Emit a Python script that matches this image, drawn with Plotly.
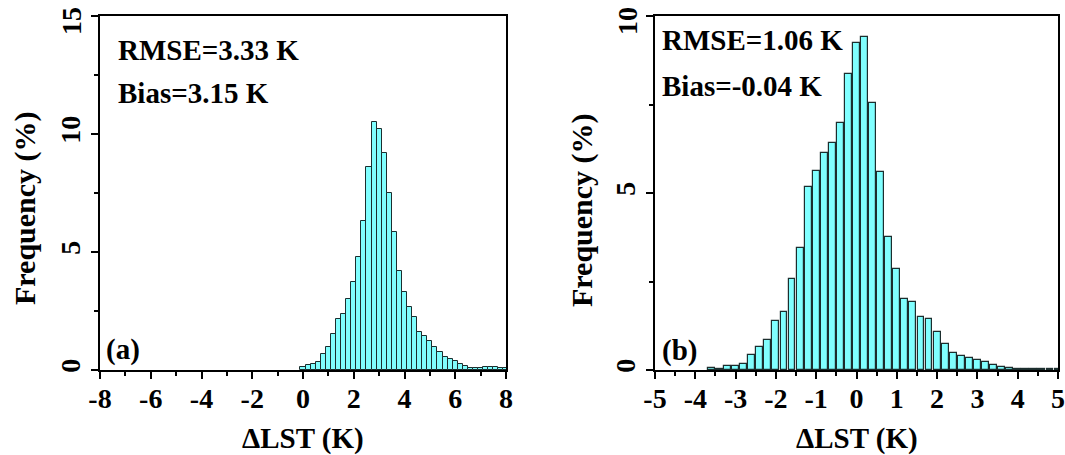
import plotly.graph_objects as go

# ---------------- data ----------------
bins_a = [0.0, 0.2, 0.4, 0.6, 0.8, 1.0, 1.2, 1.4, 1.6, 1.8, 2.0, 2.2, 2.4, 2.6, 2.8,
          3.0, 3.2, 3.4, 3.6, 3.8, 4.0, 4.2, 4.4, 4.6, 4.8, 5.0, 5.2, 5.4, 5.6, 5.8,
          6.0, 6.2, 6.4, 6.6, 6.8, 7.0, 7.2, 7.4, 7.6, 7.8, 8.0]
freq_a = [0.11, 0.20, 0.24, 0.32, 0.66, 0.99, 1.53, 2.15, 2.37, 2.99, 3.74, 4.77, 6.33,
          8.62, 10.52, 10.21, 9.21, 7.49, 5.85, 4.21, 3.32, 2.66, 2.23, 1.62, 1.44, 1.21,
          0.97, 0.75, 0.54, 0.48, 0.40, 0.27, 0.17, 0.10, 0.08, 0.08, 0.13, 0.11, 0.11,
          0.10, 0.07]

bins_b = [-3.6, -3.4, -3.2, -3.0, -2.8, -2.6, -2.4, -2.2, -2.0, -1.8, -1.6, -1.4, -1.2,
          -1.0, -0.8, -0.6, -0.4, -0.2, 0.0, 0.2, 0.4, 0.6, 0.8, 1.0, 1.2, 1.4, 1.6, 1.8,
          2.0, 2.2, 2.4, 2.6, 2.8, 3.0, 3.2, 3.4, 3.6, 3.8, 4.0, 4.2, 4.4, 4.6, 4.8, 5.0]
freq_b = [0.06, 0.03, 0.12, 0.12, 0.18, 0.43, 0.64, 0.86, 1.39, 1.65, 2.57, 3.46, 5.16,
          5.63, 6.14, 6.42, 6.99, 8.37, 9.23, 9.42, 7.54, 5.59, 3.76, 2.85, 2.00, 1.92,
          1.49, 1.43, 1.06, 0.73, 0.47, 0.40, 0.35, 0.29, 0.24, 0.15, 0.08, 0.05, 0.02,
          0.02, 0.04, 0.04, 0.03, 0.02]

xticks_a = [-8, -6, -4, -2, 0, 2, 4, 6, 8]
xticks_b = [-5, -4, -3, -2, -1, 0, 1, 2, 3, 4, 5]
yticks_a = [0, 5, 10, 15]
yticks_b = [0, 5, 10]

stats_a = ["RMSE=3.33 K", "Bias=3.15 K"]
stats_b = ["RMSE=1.06 K", "Bias=-0.04 K"]

# ---------------- figure ----------------
W, H = 1065, 455
FONT = "Liberation Serif, Times New Roman, serif"
fill = "#80FFFF"
edge = "#1c2e2e"

fig = go.Figure()
fig.add_trace(go.Bar(x=bins_a, y=freq_a, width=0.2, xaxis="x", yaxis="y",
                     marker=dict(color=fill, line=dict(color=edge, width=1)),
                     showlegend=False))
fig.add_trace(go.Bar(x=bins_b, y=freq_b, width=0.17, xaxis="x2", yaxis="y2",
                     marker=dict(color=fill, line=dict(color=edge, width=1.2)),
                     showlegend=False))

def px_x(p):
    return p / W

def px_y(p):
    return 1 - p / H

TICKFONT = dict(family=FONT, size=28, color="black", weight="bold")
axis_common = dict(
    showline=True, linecolor="black", linewidth=1.5, mirror=True,
    ticks="outside", ticklen=7, tickwidth=1.5, tickcolor="black",
    showgrid=False, zeroline=False, automargin=False,
    ticklabeloverflow="allow",
    tickfont=TICKFONT,
)
minor_common = dict(ticks="outside", ticklen=4, tickwidth=1.5, tickcolor="black", showgrid=False)

# top y tick label is drawn slightly lower (inside the page), as in the original
ytext_a = [str(v) for v in yticks_a[:-1]] + [""]
ytext_b = [str(v) for v in yticks_b[:-1]] + [""]

fig.update_layout(
    template="none",
    width=W, height=H,
    margin=dict(l=0, r=0, t=0, b=0, pad=0),
    paper_bgcolor="white", plot_bgcolor="white",
    barmode="overlay", bargap=0,
    xaxis=dict(domain=[px_x(100), px_x(506)], range=[-8, 8], anchor="y",
               tickvals=xticks_a, ticktext=[str(v) for v in xticks_a],
               minor=dict(dtick=1, tick0=-8, **minor_common),
               ticklabelstandoff=-4, **axis_common),
    yaxis=dict(domain=[px_y(370), px_y(16)], range=[0, 15], anchor="x",
               tickvals=yticks_a, ticktext=ytext_a, tickangle=-90,
               minor=dict(dtick=2.5, tick0=0, **minor_common),
               ticklabelstandoff=0, **axis_common),
    xaxis2=dict(domain=[px_x(655), px_x(1058)], range=[-5, 5], anchor="y2",
                tickvals=xticks_b, ticktext=[str(v) for v in xticks_b],
                minor=dict(dtick=0.5, tick0=-5, **minor_common),
                ticklabelstandoff=-4, **axis_common),
    yaxis2=dict(domain=[px_y(370), px_y(16)], range=[0, 10], anchor="x2",
                tickvals=yticks_b, ticktext=ytext_b, tickangle=-90,
                minor=dict(dtick=2.5, tick0=0, **minor_common),
                ticklabelstandoff=0, **axis_common),
)

def add_text(x, y, text, xanchor="left", yanchor="middle", angle=0, size=29):
    fig.add_annotation(x=px_x(x), y=px_y(y), xref="paper", yref="paper", text=text,
                       showarrow=False, xanchor=xanchor, yanchor=yanchor, textangle=angle,
                       font=dict(family=FONT, size=size, color="black", weight="bold"))

# top y tick labels
add_text(71, 21, str(yticks_a[-1]), xanchor="center", angle=-90, size=28)
add_text(627, 21, str(yticks_b[-1]), xanchor="center", angle=-90, size=28)

# stats panel a
add_text(116, 50, stats_a[0])
add_text(116, 93, stats_a[1])
add_text(104, 349, "(a)")
# stats panel b
add_text(660, 40, stats_b[0])
add_text(660, 86, stats_b[1])
add_text(660, 350, "(b)")

# axis titles
add_text(303, 438, "ΔLST (K)", xanchor="center")
add_text(857, 438, "ΔLST (K)", xanchor="center")
add_text(25, 208, "Frequency (%)", xanchor="center", angle=-90, size=30)
add_text(582, 210, "Frequency (%)", xanchor="center", angle=-90, size=30)

fig.write_html("out.html", config={"displayModeBar": False},
               post_script="document.body.style.margin='0';")
